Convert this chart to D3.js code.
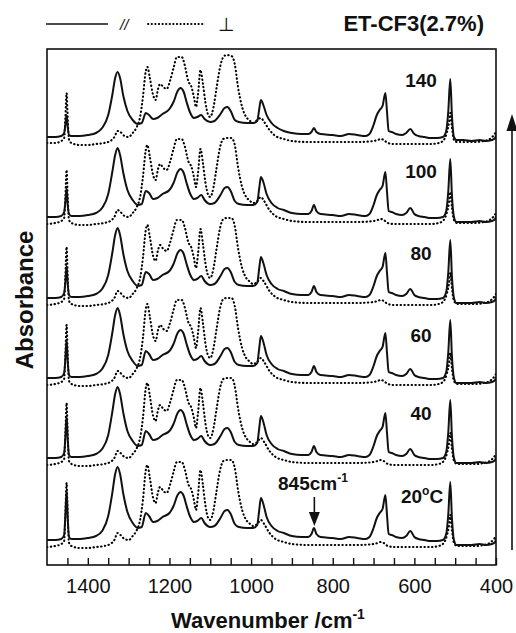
<!DOCTYPE html>
<html>
<head>
<meta charset="utf-8">
<script src="https://d3js.org/d3.v7.min.js"></script>
<style>
  html, body { margin: 0; padding: 0; background: #fff; }
  svg { display: block; font-family: "Liberation Sans", Arial, Helvetica, sans-serif; }
</style>
</head>
<body>
<svg id="chart" width="516" height="633"></svg>
<script>
// Polarized IR spectra of ET-CF3 (2.7%) at several temperatures.
// Absorbance values are relative to each spectrum's own baseline.

const temperatures = ["20", "40", "60", "80", "100", "140"];
const offsets = [0, 0.82, 1.62, 2.42, 3.23, 4.03];

// Wavenumber grid (cm-1) for the parallel (//) spectra
const parWn = [1500,1480,1465,1458,1455,1452,1449,1446,1440,1420,
  1400,1380,1365,1350,1340,1333,1327,1321,1313,1303,
  1290,1278,1268,1258,1250,1240,1230,1217,1200,1190,
  1180,1173,1165,1158,1150,1140,1132,1122,1114,1100,
  1090,1075,1065,1058,1050,1040,1030,1010,995,985,
  980,976,970,962,950,935,920,900,876,860,
  852,846,840,830,800,780,760,740,720,710,
  700,692,685,678,671,667,663,655,645,630,
  620,610,600,590,575,560,545,530,522,517,
  512,508,503,497,480,460,440,425,410,402,
  400];

const par20 = [0.00,0.00,0.01,0.05,0.25,0.50,0.20,0.03,0.01,0.01,
  0.02,0.04,0.09,0.24,0.47,0.66,0.73,0.66,0.46,0.28,
  0.17,0.12,0.13,0.27,0.24,0.18,0.19,0.23,0.27,0.34,
  0.45,0.48,0.44,0.34,0.24,0.18,0.19,0.22,0.17,0.13,
  0.14,0.22,0.29,0.30,0.26,0.16,0.13,0.12,0.12,0.15,
  0.30,0.42,0.36,0.23,0.14,0.09,0.07,0.04,0.03,0.03,
  0.06,0.12,0.06,0.03,0.02,0.01,0.03,0.02,0.01,0.03,
  0.12,0.22,0.27,0.31,0.45,0.25,0.06,0.05,0.03,0.02,
  0.04,0.09,0.03,0.01,0.00,-0.01,-0.01,0.00,0.06,0.25,
  0.58,0.22,0.00,-0.05,-0.05,-0.05,-0.04,-0.05,-0.04,-0.02,
  0.01];

const par40 = [0.00,0.00,0.01,0.05,0.21,0.42,0.17,0.03,0.01,0.01,
  0.02,0.04,0.09,0.23,0.46,0.64,0.71,0.64,0.45,0.27,
  0.17,0.12,0.13,0.27,0.24,0.18,0.19,0.23,0.27,0.34,
  0.45,0.48,0.44,0.34,0.24,0.18,0.19,0.22,0.17,0.13,
  0.14,0.22,0.29,0.30,0.26,0.16,0.13,0.12,0.12,0.15,
  0.30,0.42,0.36,0.23,0.14,0.09,0.07,0.04,0.03,0.03,
  0.06,0.12,0.06,0.03,0.02,0.01,0.03,0.02,0.01,0.03,
  0.12,0.22,0.27,0.31,0.45,0.25,0.06,0.05,0.03,0.02,
  0.04,0.09,0.03,0.01,0.00,-0.01,-0.01,0.00,0.06,0.25,
  0.58,0.22,0.00,-0.05,-0.05,-0.05,-0.04,-0.05,-0.04,-0.02,
  0.01];

const par60 = [0.00,0.00,0.01,0.05,0.19,0.38,0.15,0.03,0.01,0.01,
  0.02,0.04,0.09,0.23,0.45,0.63,0.70,0.63,0.44,0.27,
  0.17,0.12,0.13,0.27,0.24,0.18,0.19,0.23,0.27,0.34,
  0.45,0.48,0.44,0.34,0.24,0.18,0.19,0.22,0.17,0.13,
  0.14,0.22,0.29,0.30,0.26,0.16,0.13,0.12,0.12,0.15,
  0.30,0.42,0.36,0.23,0.14,0.09,0.07,0.04,0.03,0.03,
  0.06,0.12,0.06,0.03,0.02,0.01,0.03,0.02,0.01,0.03,
  0.12,0.22,0.27,0.31,0.45,0.25,0.06,0.05,0.03,0.02,
  0.04,0.09,0.03,0.01,0.00,-0.01,-0.01,0.00,0.06,0.25,
  0.58,0.22,0.00,-0.05,-0.05,-0.05,-0.04,-0.05,-0.04,-0.02,
  0.01];

const par80 = [0.00,0.00,0.01,0.05,0.16,0.32,0.13,0.03,0.01,0.01,
  0.02,0.04,0.09,0.23,0.45,0.63,0.70,0.63,0.44,0.27,
  0.17,0.12,0.13,0.26,0.24,0.18,0.19,0.23,0.27,0.34,
  0.45,0.48,0.44,0.34,0.24,0.18,0.19,0.22,0.17,0.13,
  0.14,0.22,0.29,0.30,0.26,0.16,0.13,0.12,0.12,0.15,
  0.30,0.41,0.35,0.23,0.14,0.09,0.07,0.04,0.03,0.03,
  0.06,0.12,0.06,0.03,0.02,0.01,0.03,0.02,0.01,0.03,
  0.12,0.22,0.27,0.31,0.45,0.25,0.06,0.05,0.03,0.02,
  0.04,0.09,0.03,0.01,0.00,-0.01,-0.01,0.00,0.06,0.25,
  0.58,0.22,0.00,-0.05,-0.05,-0.05,-0.04,-0.05,-0.04,-0.02,
  0.01];

const par100 = [0.00,0.00,0.01,0.05,0.15,0.29,0.11,0.03,0.01,0.01,
  0.02,0.04,0.09,0.23,0.45,0.62,0.69,0.62,0.44,0.27,
  0.17,0.12,0.13,0.26,0.24,0.18,0.19,0.23,0.27,0.34,
  0.45,0.48,0.44,0.34,0.24,0.18,0.19,0.22,0.17,0.13,
  0.14,0.22,0.29,0.30,0.26,0.16,0.13,0.12,0.12,0.15,
  0.29,0.40,0.35,0.23,0.14,0.09,0.07,0.04,0.03,0.03,
  0.06,0.12,0.06,0.03,0.02,0.01,0.03,0.02,0.01,0.03,
  0.12,0.22,0.27,0.31,0.45,0.25,0.06,0.05,0.03,0.02,
  0.04,0.09,0.03,0.01,0.00,-0.01,-0.01,0.00,0.06,0.25,
  0.58,0.22,0.00,-0.05,-0.05,-0.05,-0.04,-0.05,-0.04,-0.02,
  0.01];

const par140 = [0.00,0.00,0.01,0.04,0.12,0.22,0.09,0.02,0.01,0.01,
  0.02,0.04,0.09,0.22,0.42,0.59,0.65,0.59,0.41,0.26,
  0.17,0.13,0.14,0.24,0.22,0.18,0.19,0.23,0.28,0.35,
  0.46,0.49,0.45,0.35,0.25,0.19,0.20,0.22,0.18,0.15,
  0.16,0.23,0.29,0.30,0.26,0.17,0.15,0.14,0.14,0.16,
  0.28,0.37,0.32,0.22,0.14,0.09,0.06,0.04,0.03,0.03,
  0.05,0.09,0.05,0.03,0.02,0.01,0.03,0.02,0.01,0.03,
  0.12,0.22,0.27,0.31,0.44,0.25,0.06,0.05,0.03,0.02,
  0.04,0.08,0.03,0.01,0.00,-0.01,-0.01,0.00,0.06,0.25,
  0.58,0.22,0.00,-0.03,-0.03,-0.04,-0.03,-0.04,-0.03,-0.01,
  0.02];

// Wavenumber grid (cm-1) for the perpendicular (⊥) spectra
const perpWn = [1500,1480,1465,1458,1455,1452,1449,1446,1440,1420,
  1400,1380,1360,1345,1335,1327,1320,1310,1300,1290,
  1280,1272,1265,1258,1254,1248,1240,1234,1228,1223,
  1215,1207,1198,1190,1182,1170,1162,1154,1146,1140,
  1135,1130,1124,1118,1112,1105,1100,1092,1085,1076,
  1068,1060,1048,1040,1032,1022,1012,1005,995,985,
  976,968,955,940,920,900,860,820,780,740,
  700,690,682,675,665,650,600,560,540,528,
  520,515,512,508,503,495,470,450,430,420,
  412,405,400];

const perp20 = [-0.07,-0.06,-0.04,-0.01,0.25,0.57,0.20,-0.03,-0.06,-0.08,
  -0.08,-0.07,-0.06,-0.04,0.00,0.07,0.05,0.01,0.00,0.04,
  0.10,0.20,0.40,0.70,0.75,0.62,0.42,0.37,0.48,0.53,
  0.49,0.47,0.56,0.68,0.78,0.78,0.70,0.56,0.50,0.40,
  0.30,0.45,0.70,0.55,0.35,0.22,0.20,0.30,0.48,0.70,
  0.79,0.80,0.80,0.72,0.50,0.30,0.20,0.17,0.14,0.16,
  0.20,0.16,0.07,0.01,-0.02,-0.04,-0.05,-0.05,-0.05,-0.05,
  -0.04,-0.03,-0.02,-0.03,-0.06,-0.07,-0.07,-0.07,-0.06,-0.03,
  0.05,0.15,0.25,0.10,-0.03,-0.06,-0.06,-0.06,-0.05,-0.04,
  -0.02,0.01,0.04];

const perp40 = [-0.07,-0.06,-0.04,-0.01,0.24,0.55,0.19,-0.03,-0.06,-0.08,
  -0.08,-0.07,-0.06,-0.04,0.00,0.07,0.05,0.01,0.00,0.04,
  0.10,0.20,0.40,0.70,0.75,0.62,0.42,0.37,0.48,0.53,
  0.49,0.47,0.56,0.68,0.78,0.78,0.70,0.56,0.50,0.40,
  0.30,0.45,0.70,0.55,0.35,0.22,0.20,0.30,0.48,0.70,
  0.79,0.80,0.80,0.72,0.50,0.30,0.20,0.17,0.14,0.16,
  0.20,0.16,0.07,0.01,-0.02,-0.04,-0.05,-0.05,-0.05,-0.05,
  -0.04,-0.03,-0.02,-0.03,-0.06,-0.07,-0.07,-0.07,-0.06,-0.03,
  0.05,0.15,0.25,0.10,-0.03,-0.06,-0.06,-0.06,-0.05,-0.04,
  -0.02,0.01,0.04];

const perp60 = [-0.07,-0.06,-0.04,-0.01,0.23,0.53,0.19,-0.03,-0.06,-0.08,
  -0.08,-0.07,-0.06,-0.04,0.00,0.07,0.05,0.01,0.00,0.04,
  0.10,0.20,0.40,0.69,0.74,0.61,0.42,0.37,0.48,0.53,
  0.49,0.47,0.56,0.68,0.78,0.78,0.70,0.56,0.50,0.40,
  0.30,0.45,0.70,0.55,0.35,0.22,0.20,0.30,0.48,0.70,
  0.79,0.80,0.80,0.72,0.50,0.30,0.20,0.17,0.14,0.16,
  0.20,0.16,0.07,0.01,-0.02,-0.04,-0.05,-0.05,-0.05,-0.05,
  -0.04,-0.03,-0.02,-0.03,-0.06,-0.07,-0.07,-0.07,-0.06,-0.03,
  0.05,0.15,0.25,0.10,-0.03,-0.06,-0.06,-0.06,-0.05,-0.04,
  -0.02,0.01,0.04];

const perp80 = [-0.07,-0.06,-0.04,-0.01,0.22,0.51,0.18,-0.03,-0.06,-0.08,
  -0.08,-0.07,-0.06,-0.04,0.00,0.07,0.05,0.01,0.00,0.04,
  0.10,0.20,0.40,0.68,0.73,0.61,0.42,0.37,0.48,0.53,
  0.49,0.47,0.56,0.68,0.78,0.78,0.70,0.56,0.50,0.40,
  0.30,0.44,0.69,0.54,0.35,0.22,0.20,0.30,0.48,0.70,
  0.79,0.80,0.80,0.72,0.50,0.30,0.20,0.17,0.14,0.16,
  0.20,0.16,0.07,0.01,-0.02,-0.04,-0.05,-0.05,-0.05,-0.05,
  -0.04,-0.03,-0.02,-0.03,-0.06,-0.07,-0.07,-0.07,-0.06,-0.03,
  0.05,0.15,0.25,0.10,-0.03,-0.06,-0.06,-0.06,-0.05,-0.04,
  -0.02,0.01,0.04];

const perp100 = [-0.07,-0.06,-0.04,-0.01,0.20,0.47,0.17,-0.03,-0.06,-0.08,
  -0.08,-0.07,-0.06,-0.04,0.00,0.07,0.05,0.01,0.00,0.04,
  0.10,0.20,0.40,0.67,0.72,0.60,0.42,0.37,0.48,0.53,
  0.49,0.47,0.56,0.68,0.78,0.78,0.70,0.56,0.50,0.40,
  0.30,0.44,0.68,0.54,0.35,0.22,0.20,0.30,0.48,0.70,
  0.78,0.79,0.79,0.72,0.50,0.30,0.20,0.17,0.14,0.16,
  0.20,0.16,0.07,0.01,-0.02,-0.04,-0.05,-0.05,-0.05,-0.05,
  -0.04,-0.03,-0.02,-0.03,-0.06,-0.07,-0.07,-0.07,-0.06,-0.03,
  0.05,0.15,0.25,0.10,-0.03,-0.06,-0.06,-0.06,-0.05,-0.04,
  -0.02,0.01,0.04];

const perp140 = [-0.06,-0.06,-0.04,-0.01,0.19,0.44,0.16,-0.03,-0.06,-0.08,
  -0.08,-0.07,-0.06,-0.04,0.00,0.06,0.05,0.01,0.00,0.04,
  0.10,0.20,0.40,0.66,0.70,0.59,0.42,0.37,0.48,0.53,
  0.50,0.48,0.57,0.69,0.80,0.80,0.71,0.56,0.50,0.40,
  0.30,0.43,0.67,0.53,0.35,0.22,0.20,0.30,0.48,0.70,
  0.80,0.82,0.81,0.73,0.50,0.30,0.20,0.17,0.14,0.17,
  0.19,0.15,0.07,0.01,-0.02,-0.04,-0.05,-0.05,-0.05,-0.05,
  -0.04,-0.03,-0.02,-0.03,-0.06,-0.07,-0.07,-0.07,-0.06,-0.03,
  0.05,0.15,0.24,0.10,-0.03,-0.05,-0.05,-0.05,-0.04,-0.03,
  -0.01,0.02,0.05];

const parallel = [par20, par40, par60, par80, par100, par140];
const perpendicular = [perp20, perp40, perp60, perp80, perp100, perp140];

const majorTicks = [1400, 1200, 1000, 800, 600, 400];
const minorTicks = [1450,1350,1300,1250,1150,1100,1050,950,900,850,750,700,650,550,500,450];

// ---- layout ----
const svg = d3.select("#chart");
const plotL = 47, plotR = 496, plotT = 49, plotB = 565;

const x = d3.scaleLinear().domain([1500, 400]).range([plotL, plotR]);
const y = d3.scaleLinear().domain([0, 1]).range([540, 440]);

svg.append("clipPath").attr("id", "plotclip")
  .append("rect").attr("x", plotL).attr("y", plotT)
  .attr("width", plotR - plotL).attr("height", plotB - plotT);

const line = d3.line()
  .x(d => x(d[0]))
  .y(d => y(d[1]))
  .curve(d3.curveMonotoneX);

const plot = svg.append("g").attr("clip-path", "url(#plotclip)");

temperatures.forEach((t, i) => {
  const off = offsets[i];
  const perpPts = perpWn.map((w, k) => [w, perpendicular[i][k] + off]);
  const parPts = parWn.map((w, k) => [w, parallel[i][k] + off]);
  plot.append("path")
    .attr("d", line(perpPts))
    .attr("fill", "none")
    .attr("stroke", "#000")
    .attr("stroke-width", 2.1)
    .attr("stroke-linecap", "round")
    .attr("stroke-dasharray", "0.4,3.4");
  plot.append("path")
    .attr("d", line(parPts))
    .attr("fill", "none")
    .attr("stroke", "#111")
    .attr("stroke-width", 2)
    .attr("stroke-linejoin", "round");
});

// ---- frame and axis ----
svg.append("rect")
  .attr("x", plotL).attr("y", plotT)
  .attr("width", plotR - plotL).attr("height", plotB - plotT)
  .attr("fill", "none").attr("stroke", "#111").attr("stroke-width", 1.6);

const xAxis = d3.axisBottom(x)
  .tickValues(majorTicks.concat(minorTicks))
  .tickSize(-7)
  .tickPadding(14)
  .tickFormat(d => majorTicks.includes(d) ? d : "");

const gx = svg.append("g")
  .attr("transform", `translate(0,${plotB})`)
  .call(xAxis);
gx.select(".domain").remove();
gx.selectAll(".tick line").attr("stroke", "#111").attr("stroke-width", 1.4);
gx.selectAll(".tick text")
  .attr("fill", "#111")
  .style("font-size", "20px")
  .style("font-family", "'Liberation Sans', Arial, sans-serif");

// axis titles
const xt = svg.append("text")
  .attr("x", 268).attr("y", 628)
  .attr("text-anchor", "middle")
  .attr("fill", "#111")
  .style("font-size", "22px").style("font-weight", "bold");
xt.append("tspan").text("Wavenumber /cm");
xt.append("tspan").attr("dy", -9).style("font-size", "14px").text("-1");

svg.append("text")
  .attr("transform", "translate(33,300) rotate(-90)")
  .attr("text-anchor", "middle")
  .attr("fill", "#111")
  .style("font-size", "24px").style("font-weight", "bold")
  .text("Absorbance");

// ---- legend ----
svg.append("line").attr("x1", 46).attr("x2", 108).attr("y1", 24).attr("y2", 24)
  .attr("stroke", "#111").attr("stroke-width", 1.6);
svg.append("text").attr("x", 120).attr("y", 30)
  .attr("fill", "#111").style("font-size", "15px").style("font-style", "italic")
  .text("//");
svg.append("line").attr("x1", 148).attr("x2", 205).attr("y1", 24).attr("y2", 24)
  .attr("stroke", "#000").attr("stroke-width", 1.8)
  .attr("stroke-linecap", "round").attr("stroke-dasharray", "0.4,3.2");
svg.append("text").attr("x", 226).attr("y", 31)
  .attr("text-anchor", "middle")
  .attr("fill", "#111").style("font-size", "19px")
  .text("⊥");

svg.append("text").attr("x", 484).attr("y", 31)
  .attr("text-anchor", "end")
  .attr("fill", "#111").style("font-size", "22px").style("font-weight", "bold")
  .text("ET-CF3(2.7%)");

// ---- temperature labels ----
const labelY = [503, 420, 342, 260, 178, 87];
temperatures.forEach((t, i) => {
  const txt = svg.append("text")
    .attr("x", 421).attr("y", labelY[i])
    .attr("text-anchor", "middle")
    .attr("fill", "#111")
    .style("font-size", "19px").style("font-weight", "bold");
  if (i === 0) {
    txt.attr("x", 422);
    txt.append("tspan").text(t);
    txt.append("tspan").attr("dy", -8).style("font-size", "12px").text("o");
    txt.append("tspan").attr("dy", 8).text("C");
  } else {
    txt.text(t);
  }
});

// ---- 845 cm-1 marker ----
const m845 = svg.append("text")
  .attr("x", 278).attr("y", 490)
  .attr("fill", "#111")
  .style("font-size", "19px").style("font-weight", "bold");
m845.append("tspan").text("845cm");
m845.append("tspan").attr("dy", -8).style("font-size", "12px").text("-1");

const ax = x(845);
svg.append("line").attr("x1", ax).attr("x2", ax).attr("y1", 497).attr("y2", 514)
  .attr("stroke", "#111").attr("stroke-width", 1.6);
svg.append("path")
  .attr("d", `M${ax - 5.5},512 L${ax + 5.5},512 L${ax},526 Z`)
  .attr("fill", "#111");

// ---- temperature direction arrow ----
svg.append("line").attr("x1", 512).attr("x2", 512).attr("y1", 550).attr("y2", 128)
  .attr("stroke", "#111").attr("stroke-width", 1.6);
svg.append("path")
  .attr("d", "M506.5,131 L517.5,131 L512,114 Z")
  .attr("fill", "#111");
</script>
</body>
</html>
